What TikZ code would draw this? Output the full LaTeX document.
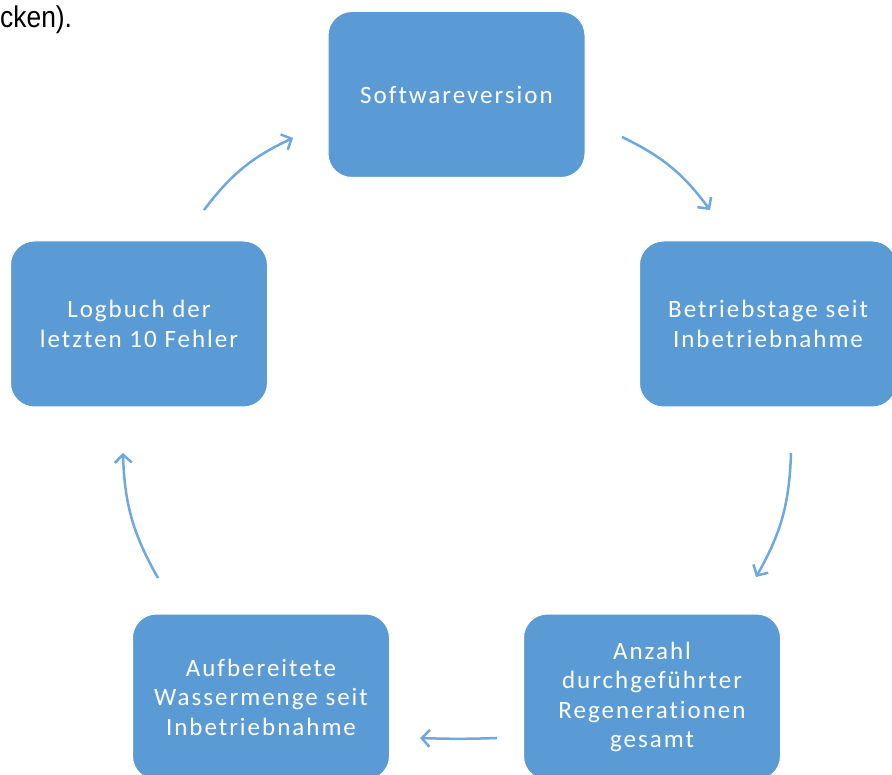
\documentclass[tikz,border=0pt]{standalone}
\usepackage{fontspec}
\setmainfont{Carlito}
\newfontfamily\narrowfont[FakeStretch=0.88]{Liberation Sans}
\newfontfamily\boxfont[LetterSpace=8,Ligatures=NoCommon]{Carlito}
\usetikzlibrary{arrows.meta}
\definecolor{boxblue}{HTML}{5B9BD5}
\definecolor{arrowblue}{HTML}{6FA8DC}
\begin{document}
\begin{tikzpicture}[x=1pt,y=-1pt,
  stepbox/.style={draw=white, line width=1pt, fill=boxblue, rounded corners=24pt,
    minimum width=257pt, minimum height=166pt, text=white, align=center,
    font=\boxfont\fontsize{25}{29.5}\selectfont, inner sep=0pt},
  flow/.style={draw=arrowblue, line width=2.5pt,
    -{Straight Barb[length=8pt,width=17pt,line width=2.5pt]}}]
\path[use as bounding box, fill=white] (0,0) rectangle (892,775);

\node[anchor=base west, font=\narrowfont\fontsize{30}{34}\selectfont, inner sep=0pt] (frag) at (0,28) {cken).};

\node[stepbox] (soft) at (456.5,94.5) {Softwareversion};
\node[stepbox] (betrieb) at (768,324) {Betriebstage seit\\Inbetriebnahme};
\node[stepbox] (anzahl) at (652,697) {Anzahl\\durchgeführter\\Regenerationen\\gesamt};
\node[stepbox] (aufb) at (261,697) {Aufbereitete\\Wassermenge seit\\Inbetriebnahme};
\node[stepbox] (log) at (139,324) {Logbuch der\\letzten 10 Fehler};

\coordinate (a1s) at (204,210);
\coordinate (a1e) at (293,138);
\coordinate (a2s) at (622,137);
\coordinate (a2e) at (710,210);
\coordinate (a3s) at (791,453);
\coordinate (a3e) at (756,577);
\coordinate (a4s) at (497,738);
\coordinate (a4e) at (420,738);
\coordinate (a5s) at (158,578);
\coordinate (a5e) at (123,453);

\draw[flow] (a1s) to[bend left=14] (a1e);
\draw[flow] (a2s) to[bend left=14] (a2e);
\draw[flow] (a3s) to[bend left=14] (a3e);
\draw[flow] (a4s) to[bend left=2] (a4e);
\draw[flow] (a5s) to[bend left=14] (a5e);
\end{tikzpicture}
\end{document}
